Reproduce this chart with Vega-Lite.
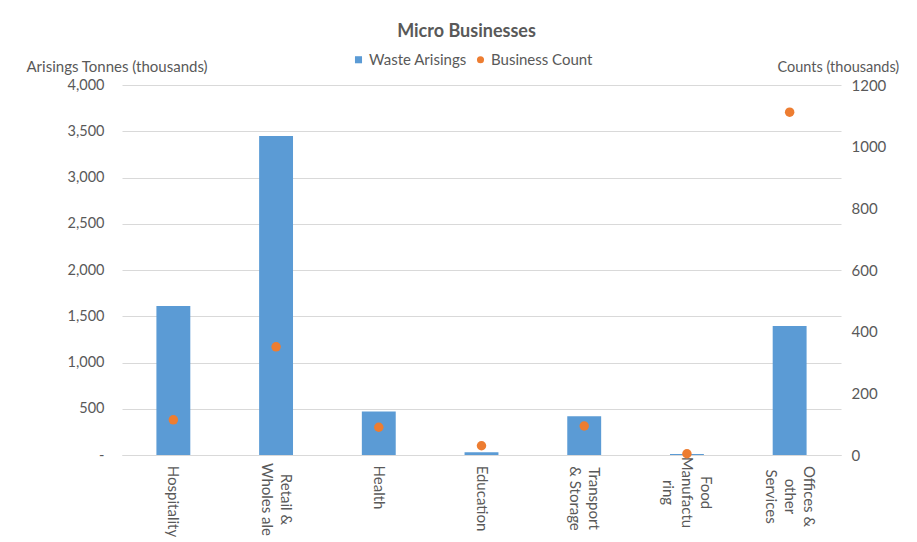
{
  "$schema": "https://vega.github.io/schema/vega-lite/v6.json",
  "width": 719,
  "height": 370,
  "autosize": {"type": "none"},
  "padding": {"left": 122, "top": 85, "right": 76, "bottom": 87},
  "background": "white",
  "config": {
    "font": "Lato",
    "view": {"stroke": null},
    "axis": {"labelFont": "Lato", "titleFont": "Lato", "labelColor": "#595959", "titleColor": "#595959", "labelFontSize": 14.5, "titleFontSize": 15, "titleFontWeight": "normal"}
  },
  "title": {"text": "Micro Businesses", "fontSize": 18, "fontWeight": "bold", "color": "#595959", "font": "Lato", "anchor": "middle", "frame": "group", "dx": -15, "offset": 11},
  "data": {
    "values": [
      {"sector": "Hospitality", "tonnes": 1610, "count": 114},
      {"sector": "Retail & Wholesale", "tonnes": 3450, "count": 351},
      {"sector": "Health", "tonnes": 470, "count": 90},
      {"sector": "Education", "tonnes": 30, "count": 30},
      {"sector": "Transport & Storage", "tonnes": 420, "count": 94},
      {"sector": "Food Manufacturing", "tonnes": 12, "count": 4},
      {"sector": "Offices & other Services", "tonnes": 1395, "count": 1112}
    ]
  },
  "encoding": {
    "x": {
      "field": "sector", "type": "nominal", "sort": null,
      "scale": {"paddingInner": 0.67, "paddingOuter": 0.335},
      "axis": {
        "title": null, "ticks": false, "labelAngle": 90, "labelAlign": "center", "labelBaseline": "middle",
        "labelFontSize": 15, "labelLineHeight": 19, "domainColor": "#D9D9D9", "labelLimit": 200,
        "labelPadding": {"condition": [
          {"test": "datum.value == 'Hospitality'", "value": 46},
          {"test": "datum.value == 'Retail & Wholesale'", "value": 44},
          {"test": "datum.value == 'Health'", "value": 32},
          {"test": "datum.value == 'Food Manufacturing'", "value": 37},
          {"test": "datum.value == 'Offices & other Services'", "value": 41}
        ], "value": 43},
        "labelOffset": {"condition": [
          {"test": "datum.value == 'Retail & Wholesale' || datum.value == 'Transport & Storage'", "value": 9.5},
          {"test": "datum.value == 'Food Manufacturing' || datum.value == 'Offices & other Services'", "value": 19}
        ], "value": 0},
        "labelExpr": "datum.value == 'Retail & Wholesale' ? ['Retail &', 'Wholes ale'] : datum.value == 'Transport & Storage' ? ['Transport', '& Storage'] : datum.value == 'Food Manufacturing' ? ['Food', 'Manufactu', 'ring'] : datum.value == 'Offices & other Services' ? ['Offices &', 'other', 'Services'] : datum.value"
      }
    }
  },
  "layer": [
    {
      "mark": {"type": "bar", "color": "#5B9BD5"},
      "encoding": {
        "y": {
          "field": "tonnes", "type": "quantitative",
          "scale": {"domain": [0, 4000], "nice": false},
          "axis": {
            "title": "Arisings Tonnes (thousands)", "titleAngle": 0, "titleAlign": "left", "titleBaseline": "middle",
            "titleX": -96, "titleY": -19, "values": [0, 500, 1000, 1500, 2000, 2500, 3000, 3500, 4000],
            "labelExpr": "datum.value == 0 ? '-' : format(datum.value, ',')",
            "ticks": false, "domain": false, "labelPadding": 18, "gridColor": "#D9D9D9", "grid": true
          }
        },
        "color": {"datum": "Waste Arisings", "type": "nominal", "scale": {"domain": ["Waste Arisings", "Business Count"], "range": ["#5B9BD5", "#ED7D31"]}, "legend": {"title": null, "orient": "none", "direction": "horizontal", "legendX": 229, "legendY": -33, "labelFont": "Lato", "labelFontSize": 15, "labelColor": "#595959", "symbolSize": 50, "columnPadding": 6, "labelOffset": 3}}
      }
    },
    {
      "mark": {"type": "point", "filled": true, "size": 90, "opacity": 1, "color": "#ED7D31"},
      "encoding": {
        "y": {
          "field": "count", "type": "quantitative",
          "scale": {"domain": [0, 1200], "nice": false},
          "axis": {
            "orient": "right", "title": "Counts (thousands)", "titleAngle": 0, "titleAlign": "left", "titleBaseline": "middle",
            "titleFontSize": 14.5, "titleX": -64, "titleY": -18, "values": [0, 200, 400, 600, 800, 1000, 1200], "format": "d",
            "ticks": false, "domain": false, "labelPadding": 10, "labelFontSize": 15, "grid": false
          }
        },
        "color": {"datum": "Business Count", "type": "nominal"},
        "shape": {"datum": "Business Count", "type": "nominal", "scale": {"domain": ["Waste Arisings", "Business Count"], "range": ["square", "circle"]}}
      }
    }
  ],
  "resolve": {"scale": {"y": "independent"}}
}
